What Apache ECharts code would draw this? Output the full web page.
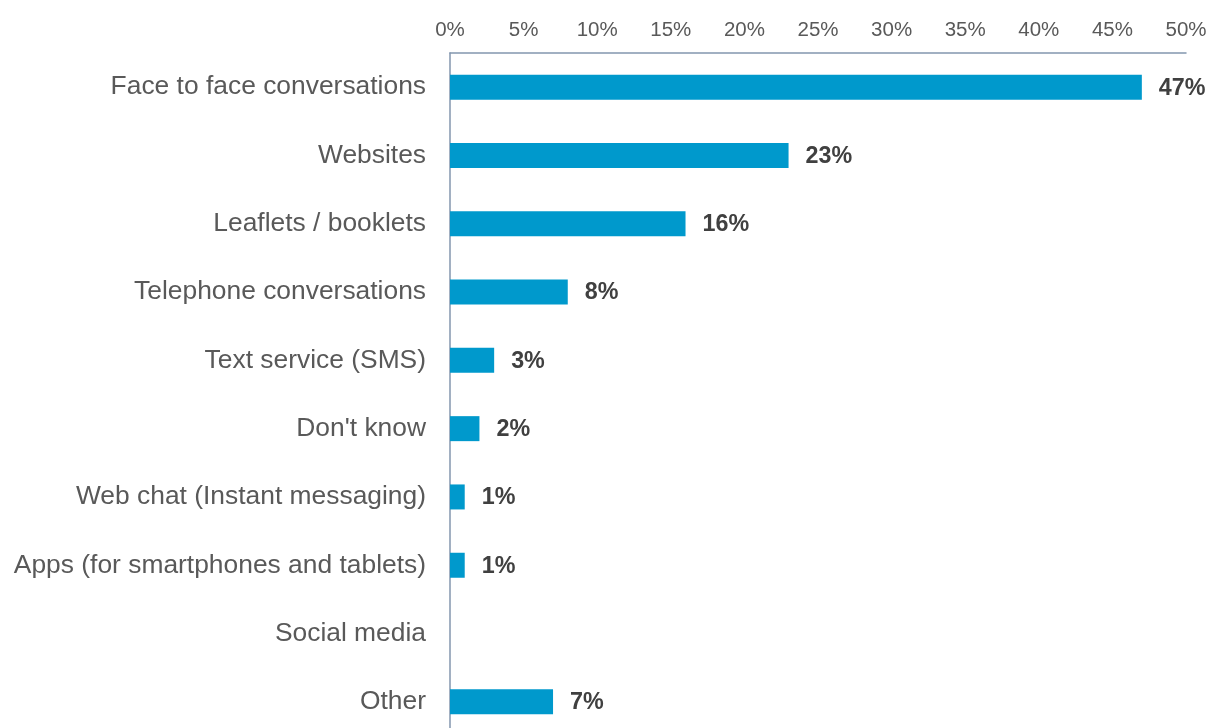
<!DOCTYPE html>
<html>
<head>
<meta charset="utf-8">
<script src="https://cdn.jsdelivr.net/npm/echarts@6/dist/echarts.min.js"></script>
<style>
  html, body { margin: 0; padding: 0; background: #ffffff; overflow: hidden; }
  /* the plot runs a little past the bottom edge of the window */
  #chart { width: 1210px; height: 745px; }
</style>
</head>
<body>
<div id="chart"></div>
<script>
// Channels people use, share of respondents (%)
const categories = [
  'Face to face conversations',
  'Websites',
  'Leaflets / booklets',
  'Telephone conversations',
  'Text service (SMS)',
  "Don't know",
  'Web chat (Instant messaging)',
  'Apps (for smartphones and tablets)',
  'Social media',
  'Other'
];
const shares = [47, 23, 16, 8, 3, 2, 1, 1, 0, 7];
const tickLabels = ['0%', '5%', '10%', '15%', '20%', '25%', '30%', '35%', '40%', '45%', '50%'];

const FONT = '"Liberation Sans", Arial, sans-serif';
const AXIS_COLOR = '#8396ae';

const chart = echarts.init(document.getElementById('chart'));
chart.setOption({
  animation: false,
  backgroundColor: '#ffffff',
  grid: { left: 450, right: 24, top: 53, height: 683, containLabel: false },
  xAxis: {
    type: 'value',
    position: 'top',
    min: 0,
    max: 50,
    interval: 5,
    axisLine: { show: true, lineStyle: { color: AXIS_COLOR, width: 1.5 } },
    axisTick: { show: false },
    splitLine: { show: false },
    axisLabel: {
      color: '#595959',
      fontFamily: FONT,
      fontSize: 20.5,
      margin: 12,
      formatter: (v) => tickLabels[Math.round(v / 5)]
    }
  },
  yAxis: {
    type: 'category',
    data: categories,
    inverse: true,
    axisLine: { show: true, lineStyle: { color: AXIS_COLOR, width: 1.5 } },
    axisTick: { show: false },
    splitLine: { show: false },
    axisLabel: {
      color: '#595959',
      fontFamily: FONT,
      fontSize: 26.4,
      margin: 24
    }
  },
  series: [{
    type: 'bar',
    data: shares,
    barWidth: 25,
    itemStyle: { color: '#0099cc' },
    label: {
      show: true,
      position: 'right',
      distance: 17,
      offset: [0, 1],
      color: '#404040',
      fontFamily: FONT,
      fontWeight: 'bold',
      fontSize: 23.3,
      formatter: (p) => (p.value > 0 ? p.value + '%' : '')
    }
  }]
});
</script>
</body>
</html>
